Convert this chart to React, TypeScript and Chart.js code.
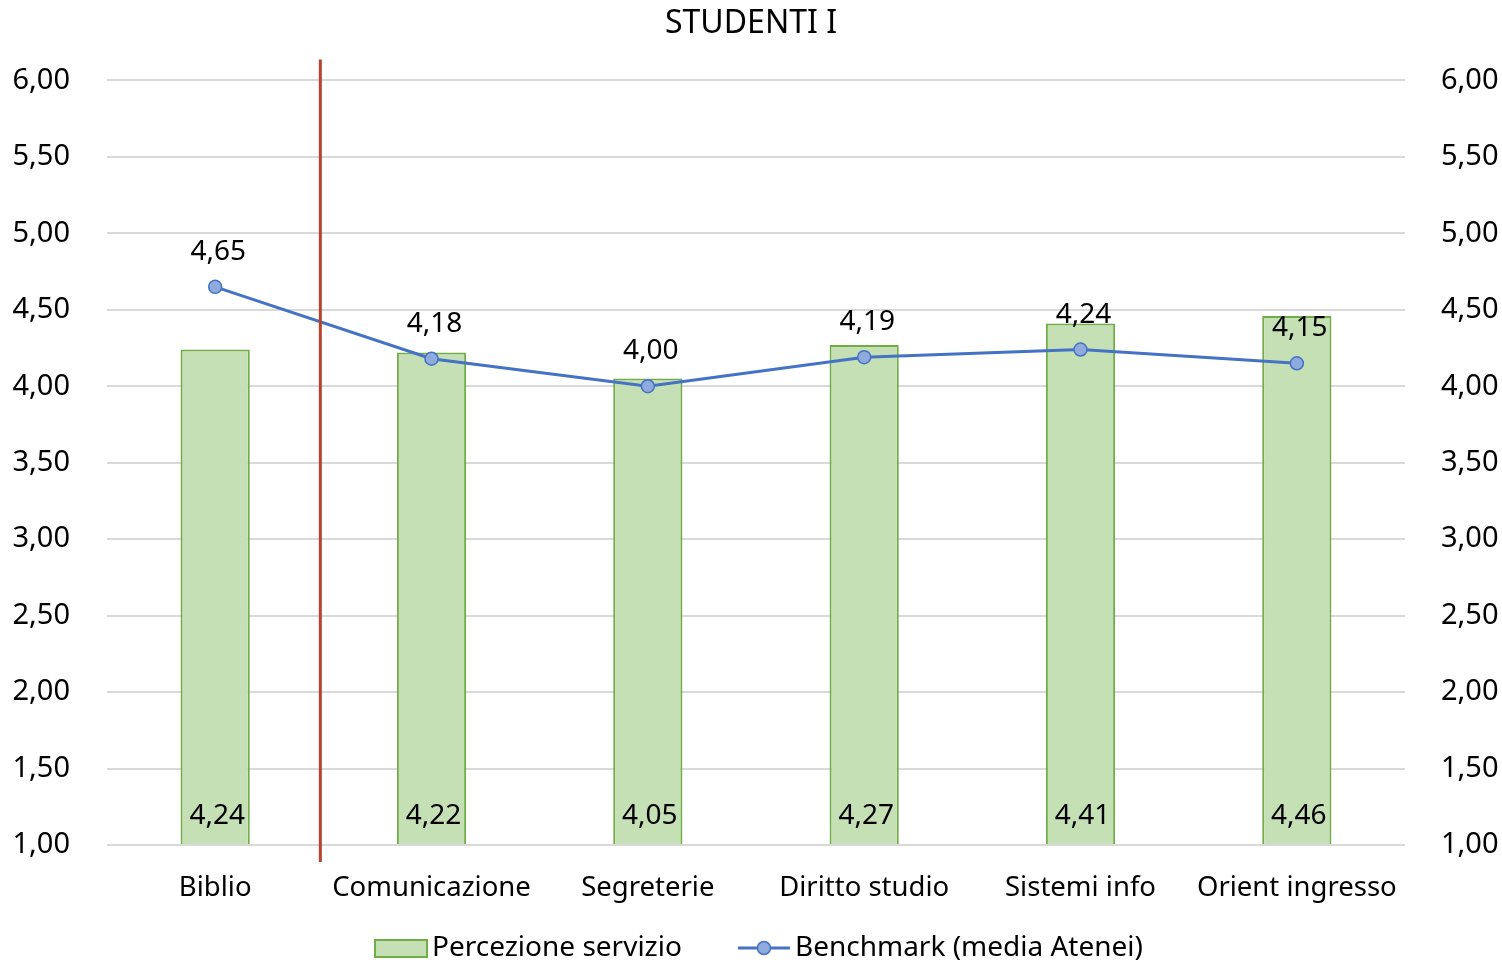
import React, { useEffect, useRef } from "react";
import { Chart, registerables } from "chart.js";

Chart.register(...registerables);

const categories = ["Biblio", "Comunicazione", "Segreterie", "Diritto studio", "Sistemi info", "Orient ingresso"];
const perceptionValues = [4.24, 4.22, 4.05, 4.27, 4.41, 4.46];
const benchmarkValues = [4.65, 4.18, 4.0, 4.19, 4.24, 4.15];
const yMin = 1;
const yMax = 6;
const yStep = 0.5;

const FONT = "'Noto Sans', sans-serif";
const fmt = (v: number) => v.toFixed(2).replace(".", ",");

const BAR_FILL = "#C5E0B4";
const BAR_BORDER = "#70AD47";
const LINE_COLOR = "#4472C4";
const POINT_FILL = "#8FAADC";
const DIVIDER = "#B8432F";

const overlayPlugin = {
  id: "overlay",
  afterDatasetsDraw(chart: any) {
    const { ctx, chartArea, scales } = chart;
    const x = scales.x;
    ctx.save();
    // divider between the first category and the rest
    const dx = (x.getPixelForValue(0) + x.getPixelForValue(1)) / 2 - 3;
    ctx.strokeStyle = DIVIDER;
    ctx.lineWidth = 3;
    ctx.beginPath();
    ctx.moveTo(dx, chartArea.top - 21);
    ctx.lineTo(dx, chartArea.bottom + 17);
    ctx.stroke();

    // value labels
    ctx.fillStyle = "#000";
    ctx.font = `28px ${FONT}`;
    ctx.textAlign = "center";
    ctx.textBaseline = "middle";
    const barMeta = chart.getDatasetMeta(0);
    barMeta.data.forEach((el: any, i: number) => {
      ctx.fillText(fmt(perceptionValues[i]), el.x + 2, chartArea.bottom - 29);
    });
    const lineMeta = chart.getDatasetMeta(1);
    lineMeta.data.forEach((el: any, i: number) => {
      ctx.fillText(fmt(benchmarkValues[i]), el.x + 3, el.y - 35);
    });
    ctx.restore();
  },
  afterDraw(chart: any) {
    const { ctx, width, height } = chart;
    ctx.save();
    ctx.font = `28px ${FONT}`;
    ctx.textBaseline = "middle";
    ctx.textAlign = "left";
    const t1 = "Percezione servizio";
    const t2 = "Benchmark (media Atenei)";
    const w1 = ctx.measureText(t1).width;
    const w2 = ctx.measureText(t2).width;
    const sw = 52;
    const gapText = 5;
    const gapItems = 56;
    const total = sw + gapText + w1 + gapItems + sw + gapText + w2;
    let x = width / 2 + 8 - total / 2;
    const y = height - 15;
    ctx.fillStyle = BAR_FILL;
    ctx.strokeStyle = BAR_BORDER;
    ctx.lineWidth = 2;
    ctx.fillRect(x, y - 8, sw, 17);
    ctx.strokeRect(x, y - 8, sw, 17);
    x += sw + gapText;
    ctx.fillStyle = "#000";
    ctx.fillText(t1, x, y);
    x += w1 + gapItems;
    ctx.strokeStyle = LINE_COLOR;
    ctx.lineWidth = 3;
    ctx.beginPath();
    ctx.moveTo(x, y);
    ctx.lineTo(x + sw, y);
    ctx.stroke();
    ctx.beginPath();
    ctx.arc(x + sw / 2, y, 6.5, 0, Math.PI * 2);
    ctx.fillStyle = POINT_FILL;
    ctx.fill();
    ctx.lineWidth = 1.5;
    ctx.stroke();
    x += sw + gapText;
    ctx.fillStyle = "#000";
    ctx.fillText(t2, x, y);
    ctx.restore();
  },
};

export default function App() {
  const ref = useRef<HTMLCanvasElement>(null);

  useEffect(() => {
    document.body.style.margin = "0";
    const canvas = ref.current;
    if (!canvas) return;
    const yTickFont = { family: FONT, size: 29 };
    const chart = new Chart(canvas, {
      type: "bar",
      data: {
        labels: categories,
        datasets: [
          {
            type: "bar",
            label: "Percezione servizio",
            data: perceptionValues,
            backgroundColor: BAR_FILL,
            borderColor: BAR_BORDER,
            borderWidth: 2,
            base: yMin,
            barPercentage: 0.32,
            categoryPercentage: 1,
            order: 2,
            yAxisID: "y",
          } as any,
          {
            type: "line",
            label: "Benchmark (media Atenei)",
            data: benchmarkValues,
            borderColor: LINE_COLOR,
            borderWidth: 3,
            pointRadius: 6.5,
            pointBackgroundColor: POINT_FILL,
            pointBorderColor: LINE_COLOR,
            pointBorderWidth: 1.5,
            tension: 0,
            order: 1,
            yAxisID: "y",
          },
        ],
      },
      options: {
        responsive: false,
        animation: false,
        layout: { padding: { left: 0, right: 0, top: 0, bottom: 48 } },
        plugins: {
          legend: { display: false },
          tooltip: { enabled: false },
          title: {
            display: true,
            text: "STUDENTI I",
            color: "#000",
            font: { family: FONT, size: 32, weight: "normal" },
            padding: { top: 5, bottom: 37 },
          },
        },
        scales: {
          x: {
            grid: { display: false },
            border: { display: false },
            ticks: { color: "#000", font: { family: FONT, size: 27.5 }, padding: 19, maxRotation: 0 },
            afterFit: (s: any) => {
              s.height = 70;
            },
          },
          y: {
            position: "left",
            min: yMin,
            max: yMax,
            border: { display: false },
            grid: { color: "#D9D9D9", lineWidth: 2, drawTicks: false },
            ticks: {
              stepSize: yStep,
              color: "#000",
              font: yTickFont,
              padding: 37,
              callback: (v: any) => fmt(Number(v)),
            },
            afterFit: (s: any) => {
              s.width = 107;
            },
          },
          y1: {
            position: "right",
            min: yMin,
            max: yMax,
            border: { display: false },
            grid: { display: false, drawTicks: false },
            ticks: {
              stepSize: yStep,
              color: "#000",
              font: yTickFont,
              padding: 36,
              callback: (v: any) => fmt(Number(v)),
            },
            afterFit: (s: any) => {
              s.width = 97;
            },
          },
        },
      },
      plugins: [overlayPlugin],
    });
    return () => chart.destroy();
  }, []);

  return (
    <div style={{ position: "absolute", left: 0, top: 0, width: 1502, height: 963, background: "#fff" }}>
      <canvas ref={ref} width={1502} height={963} style={{ display: "block" }} />
    </div>
  );
}
